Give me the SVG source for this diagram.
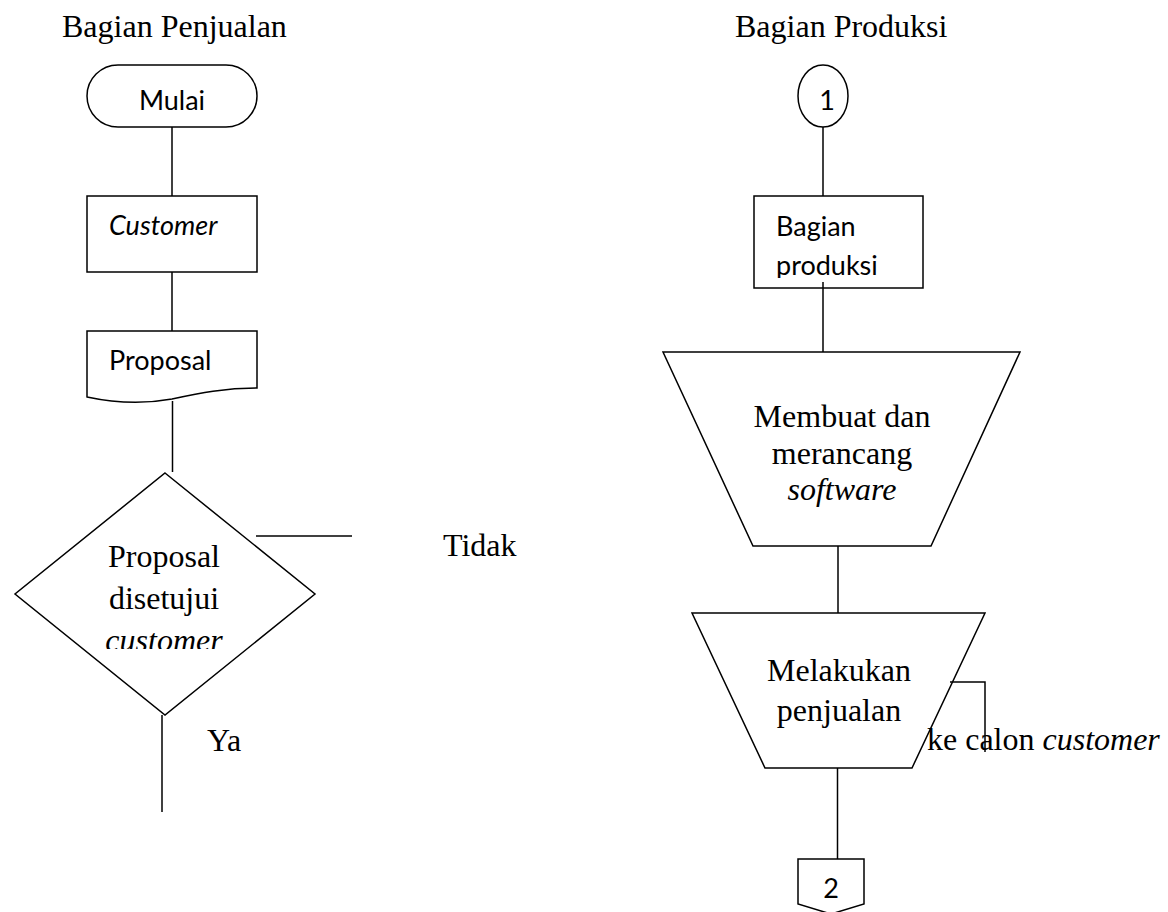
<svg xmlns="http://www.w3.org/2000/svg" width="1168" height="912" viewBox="0 0 1168 912">
  <style>
    .shape { fill: #ffffff; stroke: #000000; stroke-width: 1.5; }
    .conn { fill: none; stroke: #000000; stroke-width: 1.5; }
    .serif { font-family: "Liberation Serif", "Times New Roman", serif; font-size: 32px; fill: #000000; }
    .sans { font-family: Lato, "Open Sans", sans-serif; font-size: 27px; fill: #000000; }
    .it { font-style: italic; }
    .mid { text-anchor: middle; }
  </style>
  <defs>
    <clipPath id="clipProd"><rect x="754" y="196" width="169" height="82"/></clipPath>
    <clipPath id="clipDiam"><rect x="0" y="470" width="330" height="179"/></clipPath>
  </defs>
  <rect width="1168" height="912" fill="#ffffff"/>

  <g id="headings">
    <text class="serif" x="62" y="37">Bagian Penjualan</text>
    <text class="serif" x="735" y="37">Bagian Produksi</text>
  </g>

  <g id="connectors">
    <line class="conn" x1="172" y1="127" x2="172" y2="196"/>
    <line class="conn" x1="172" y1="272" x2="172" y2="331"/>
    <line class="conn" x1="172.5" y1="401" x2="172.5" y2="472"/>
    <line class="conn" x1="162" y1="715" x2="162" y2="812"/>
    <line class="conn" x1="256" y1="536" x2="352" y2="536"/>
    <line class="conn" x1="823" y1="127" x2="823" y2="196"/>
    <line class="conn" x1="823" y1="282" x2="823" y2="352"/>
    <line class="conn" x1="838" y1="546" x2="838" y2="613"/>
    <line class="conn" x1="837.5" y1="768" x2="837.5" y2="859"/>
  </g>

  <g id="mulai">
    <rect class="shape" x="87" y="65" width="170" height="62" rx="31" ry="31"/>
    <text class="sans mid" x="172" y="110">Mulai</text>
  </g>

  <g id="customer">
    <rect class="shape" x="87" y="196" width="170" height="76"/>
    <text class="sans it" x="109" y="235">Customer</text>
  </g>

  <g id="proposal">
    <path class="shape" d="M87,331 H257 V388 C225,388 200,393 172,399 C145,404 115,403 87,397 Z"/>
    <text class="sans" x="109" y="370">Proposal</text>
  </g>

  <g id="decision">
    <polygon class="shape" points="165,473 315,594 165,715 15,594"/>
    <g clip-path="url(#clipDiam)">
      <text class="serif mid" x="164" y="567">Proposal</text>
      <text class="serif mid" x="164" y="609">disetujui</text>
      <text class="serif mid it" x="164" y="651">customer</text>
    </g>
  </g>

  <g id="label-tidak">
    <text class="serif" x="443" y="556">Tidak</text>
  </g>
  <g id="label-ya">
    <text class="serif" x="207" y="751">Ya</text>
  </g>

  <g id="connector1">
    <ellipse class="shape" cx="823" cy="96" rx="25" ry="31"/>
    <text class="sans mid" x="827" y="110">1</text>
  </g>

  <g id="bagian-produksi">
    <rect class="shape" x="754" y="196" width="169" height="92"/>
    <g clip-path="url(#clipProd)">
      <text class="sans" x="776" y="236">Bagian</text>
      <text class="sans" x="776" y="275">produksi</text>
    </g>
    <line class="conn" x1="823" y1="282" x2="823" y2="288"/>
  </g>

  <g id="membuat">
    <polygon class="shape" points="663,352 1020,352 931,546 753,546"/>
    <text class="serif mid" x="842" y="427">Membuat dan</text>
    <text class="serif mid" x="842" y="464">merancang</text>
    <text class="serif mid it" x="842" y="500">software</text>
  </g>

  <g id="melakukan">
    <polygon class="shape" points="692,613 985,613 912,768 765,768"/>
    <text class="serif mid" x="839" y="681">Melakukan</text>
    <text class="serif mid" x="839" y="721">penjualan</text>
  </g>

  <g id="label-ke-calon">
    <text class="serif" x="927" y="750">ke calon <tspan class="it">customer</tspan></text>
  </g>

  <g id="connector-out">
    <polyline class="conn" points="950,682 985,682 985,752"/>
  </g>

  <g id="connector2">
    <path class="shape" d="M798,859 H864 V904 L831,914 L798,904 Z"/>
    <text class="sans mid" x="831" y="898">2</text>
  </g>
</svg>
